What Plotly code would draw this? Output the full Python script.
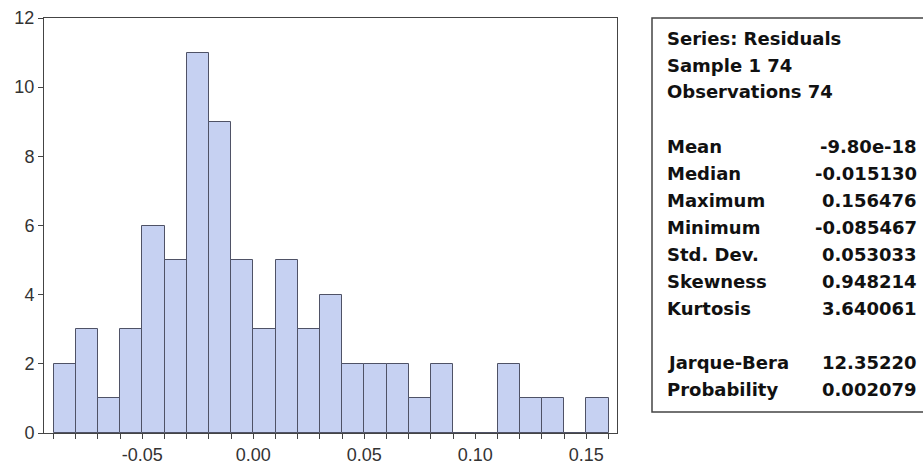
import plotly.graph_objects as go

# ---- data ----
bin_starts = [-0.09, -0.08, -0.07, -0.06, -0.05, -0.04, -0.03, -0.02, -0.01, 0.00,
              0.01, 0.02, 0.03, 0.04, 0.05, 0.06, 0.07, 0.08, 0.09, 0.10,
              0.11, 0.12, 0.13, 0.14, 0.15]
counts = [2, 3, 1, 3, 6, 5, 11, 9, 5, 3,
          5, 3, 4, 2, 2, 2, 1, 2, 0, 0,
          2, 1, 1, 0, 1]
bin_width = 0.01

x_tick_vals = [-0.05, 0.00, 0.05, 0.10, 0.15]
x_tick_text = ["-0.05", "0.00", "0.05", "0.10", "0.15"]
y_tick_vals = [0, 2, 4, 6, 8, 10, 12]

header_lines = ["Series: Residuals", "Sample 1 74", "Observations 74"]
stat_labels = ["Mean", "Median", "Maximum", "Minimum", "Std. Dev.", "Skewness", "Kurtosis"]
stat_values = ["-9.80e-18", "-0.015130", "0.156476", "-0.085467", "0.053033", "0.948214", "3.640061"]
test_labels = ["Jarque-Bera", "Probability"]
test_values = ["12.35220", "0.002079"]

# ---- figure ----
W, H = 923, 467
ml, mt, mr, mb = 44, 18, 306, 34
plot_w = W - ml - mr
plot_h = H - mt - mb

centers = [s + bin_width / 2 for s in bin_starts]

fig = go.Figure()
fig.add_trace(go.Bar(
    x=centers, y=counts, width=[bin_width] * len(counts),
    marker=dict(color="#c6d1f2", line=dict(color="#4f5266", width=1)),
    hoverinfo="x+y", showlegend=False,
))

axis_font = dict(family="Liberation Sans, Arial, sans-serif", size=18, color="#333333")

fig.update_xaxes(
    range=[-0.0943, 0.1638], automargin=False,
    tickvals=x_tick_vals, ticktext=x_tick_text,
    ticks="outside", ticklen=5, tickcolor="#444444", tickwidth=1,
    minor=dict(dtick=bin_width, tick0=0, ticks="outside", ticklen=5, tickcolor="#444444", tickwidth=1, showgrid=False),
    showline=True, linecolor="#444444", linewidth=1, mirror=True,
    showgrid=False, zeroline=False, tickfont=axis_font,
)
fig.update_yaxes(
    range=[0, 12], tickvals=y_tick_vals, automargin=False,
    ticks="outside", ticklen=5, tickcolor="#444444", tickwidth=1,
    showline=True, linecolor="#444444", linewidth=1, mirror=True,
    showgrid=False, zeroline=False, tickfont=axis_font,
)

def px_x(px):
    return (px - ml) / plot_w

def px_y(py):
    return (H - mb - py) / plot_h

# stats box
fig.add_shape(type="rect", xref="paper", yref="paper",
              x0=px_x(652), x1=px_x(940), y0=px_y(412), y1=px_y(18),
              line=dict(color="#444444", width=1.5), fillcolor="white", layer="below")

stat_font = dict(family="DejaVu Sans, Liberation Sans, Arial, sans-serif", size=18, color="#111111", weight="bold")

rows = []
for h in header_lines:
    rows.append((h, None))
rows.append(("", None))
for l, v in zip(stat_labels, stat_values):
    rows.append((l, v))
rows.append(("", None))
for l, v in zip(test_labels, test_values):
    rows.append((l, v))

x_label = px_x(665)
x_value = px_x(919)
for i, (lab, val) in enumerate(rows):
    ypos = px_y(38 + 27 * i)
    if lab:
        fig.add_annotation(xref="paper", yref="paper", x=x_label, y=ypos, text=lab,
                           showarrow=False, xanchor="left", yanchor="middle", font=stat_font)
    if val:
        fig.add_annotation(xref="paper", yref="paper", x=x_value, y=ypos, text=val,
                           showarrow=False, xanchor="right", yanchor="middle", font=stat_font)

fig.update_layout(
    width=W, height=H,
    margin=dict(l=ml, r=mr, t=mt, b=mb, pad=0, autoexpand=False),
    paper_bgcolor="white", plot_bgcolor="white",
    bargap=0,
)

fig.write_html("out.html", config={"displayModeBar": False},
               post_script="document.body.style.margin='0px';")
